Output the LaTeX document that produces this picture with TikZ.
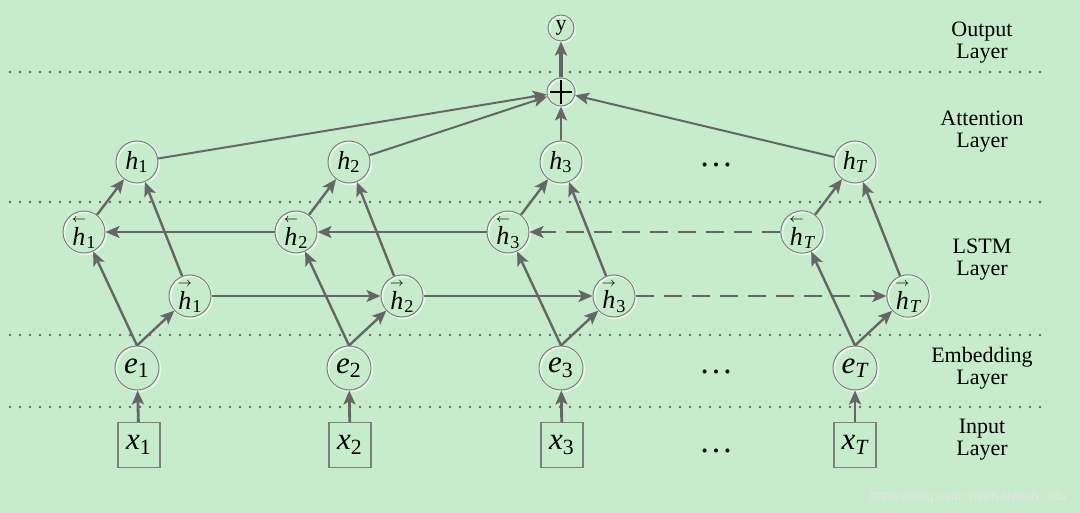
\documentclass[tikz,border=0pt]{standalone}
\usepackage{amsmath}
\usepackage{fontspec}
\setmainfont{Liberation Serif}
\newfontfamily\wmfont{Liberation Sans}
\usetikzlibrary{arrows.meta}
\definecolor{bg}{HTML}{C6ECCB}
\definecolor{ln}{HTML}{666666}
\definecolor{circ}{HTML}{7E7E7E}
\newcommand\hA[1]{$\textit{h}_{#1}$}
\newcommand\hB[1]{${\overset{\scriptscriptstyle\leftarrow}{\textit{h}}}_{#1}$}
\newcommand\hF[1]{${\overset{\scriptscriptstyle\rightarrow}{\textit{h}}}_{#1}$}
\begin{document}
\begin{tikzpicture}[x=0.5pt,y=-0.5pt,
  unit/.style={circle, draw=circ, line width=0.5pt, minimum size=21pt, inner sep=0pt, text=black,
    preaction={draw=white, draw opacity=0.6, line width=1.1pt, transform canvas={shift={(0.6pt,-0.6pt)}}},
    font=\fontsize{13}{13}\selectfont},
  emb/.style={unit, minimum size=22pt, font=\fontsize{15.5}{15.5}\selectfont},
  inbox/.style={rectangle, draw=circ, line width=0.7pt, minimum width=21pt, minimum height=22.5pt, inner sep=0pt, font=\fontsize{15.5}{15.5}\selectfont},
  conn/.style={draw=ln, line width=1.2pt, -{Stealth[length=7pt,width=6pt,inset=1.6pt]}},
  dconn/.style={conn, dash pattern=on 9pt off 5pt},
  layerline/.style={draw=ln, line width=1.4pt, line cap=round, dash pattern=on 0pt off 5pt},
  layertext/.style={align=center, font=\fontsize{11}{11}\selectfont, inner sep=0pt},
  dotsnode/.style={anchor=base, inner sep=0pt, font=\fontsize{17}{17}\selectfont}
]
\fill[bg] (0,0) rectangle (1080,513);
\useasboundingbox (0,0) rectangle (1080,513);
\foreach \yy in {72,202,335,407} \draw[layerline] (10,\yy) -- (1048,\yy);

% output / attention
\node[unit, minimum size=13pt, font=\fontsize{11}{11}\selectfont] (y) at (561,28) {y};
\node[unit, minimum size=14pt,
  path picture={\draw[black,line width=0.8pt]
    ([xshift=-5.5pt]path picture bounding box.center) -- ([xshift=5.5pt]path picture bounding box.center)
    ([yshift=-6pt]path picture bounding box.center) -- ([yshift=6pt]path picture bounding box.center);}] (plus) at (561,92) {};

\node[unit] (h1) at (137,162) {\hA{\textrm{1}}};
\node[unit] (h2) at (349,162) {\hA{\textrm{2}}};
\node[unit] (h3) at (561,162) {\hA{\textrm{3}}};
\node[unit] (hT) at (855,162) {\hA{\textit{T}}};

% LSTM
\node[unit] (hb1) at (84,232) {\hB{\textrm{1}}};
\node[unit] (hb2) at (296,232) {\hB{\textrm{2}}};
\node[unit] (hb3) at (508,232) {\hB{\textrm{3}}};
\node[unit] (hbT) at (802,232) {\hB{\textit{T}}};
\node[unit] (hf1) at (190,296) {\hF{\textrm{1}}};
\node[unit] (hf2) at (402,296) {\hF{\textrm{2}}};
\node[unit] (hf3) at (614,296) {\hF{\textrm{3}}};
\node[unit] (hfT) at (908,296) {\hF{\textit{T}}};

% embedding
\node[emb] (e1) at (137,368) {$\textit{e}_{\textrm{1}}$};
\node[emb] (e2) at (349,368) {$\textit{e}_{\textrm{2}}$};
\node[emb] (e3) at (561,368) {$\textit{e}_{\textrm{3}}$};
\node[emb] (eT) at (855,368) {$\textit{e}_{\textit{T}}$};

% input
\node[inbox] (x1) at (139,445) {$\textit{x}_{\textrm{1}}$};
\node[inbox] (x2) at (350,445) {$\textit{x}_{\textrm{2}}$};
\node[inbox] (x3) at (562,445) {$\textit{x}_{\textrm{3}}$};
\node[inbox] (xT) at (855,445) {$\textit{x}_{\textit{T}}$};

% dots
\node[dotsnode] (d1) at (716,167) {…};
\node[dotsnode] (d2) at (716,373) {…};
\node[dotsnode] (d3) at (716,452) {…};

% layer labels
\node[layertext] (l1) at (982,43) {Output\\Layer};
\node[layertext] (l2) at (982,132) {Attention\\Layer};
\node[layertext] (l3) at (982,260) {LSTM\\Layer};
\node[layertext] (l4) at (982,368) {Embedding\\Layer};
\node[layertext] (l5) at (982,440) {Input\\Layer};

% watermark
\node[inner sep=0pt, text=white!80!gray, font=\wmfont\fontsize{6.6}{7}\selectfont] (wm) at (968,497) {https://blog.csdn.net/Kaiyuan\_sjtu};

% connectors
\foreach \i in {1,2,3,T} {
  \draw[conn, line width=1.4pt] (x\i) -- (e\i);
  \draw[conn] (e\i.north) -- (hb\i);
  \draw[conn] (e\i.north) -- (hf\i);
  \draw[conn] (hb\i) -- (h\i);
  \draw[conn] (hf\i) -- (h\i);
}
\draw[conn] (hb2) -- (hb1);
\draw[conn] (hb3) -- (hb2);
\draw[dconn] (hbT) -- (hb3);
\draw[conn] (hf1) -- (hf2);
\draw[conn] (hf2) -- (hf3);
\draw[dconn] (hf3) -- (hfT);

\draw[conn, line width=1pt] (h1) -- (plus);
\draw[conn, line width=1pt] (h2) -- (plus);
\draw[conn, line width=1pt] (h3) -- (plus);
\draw[conn, line width=1pt] (hT) -- (plus);
\draw[conn, line width=2pt] (plus) -- (y);
\end{tikzpicture}
\end{document}
